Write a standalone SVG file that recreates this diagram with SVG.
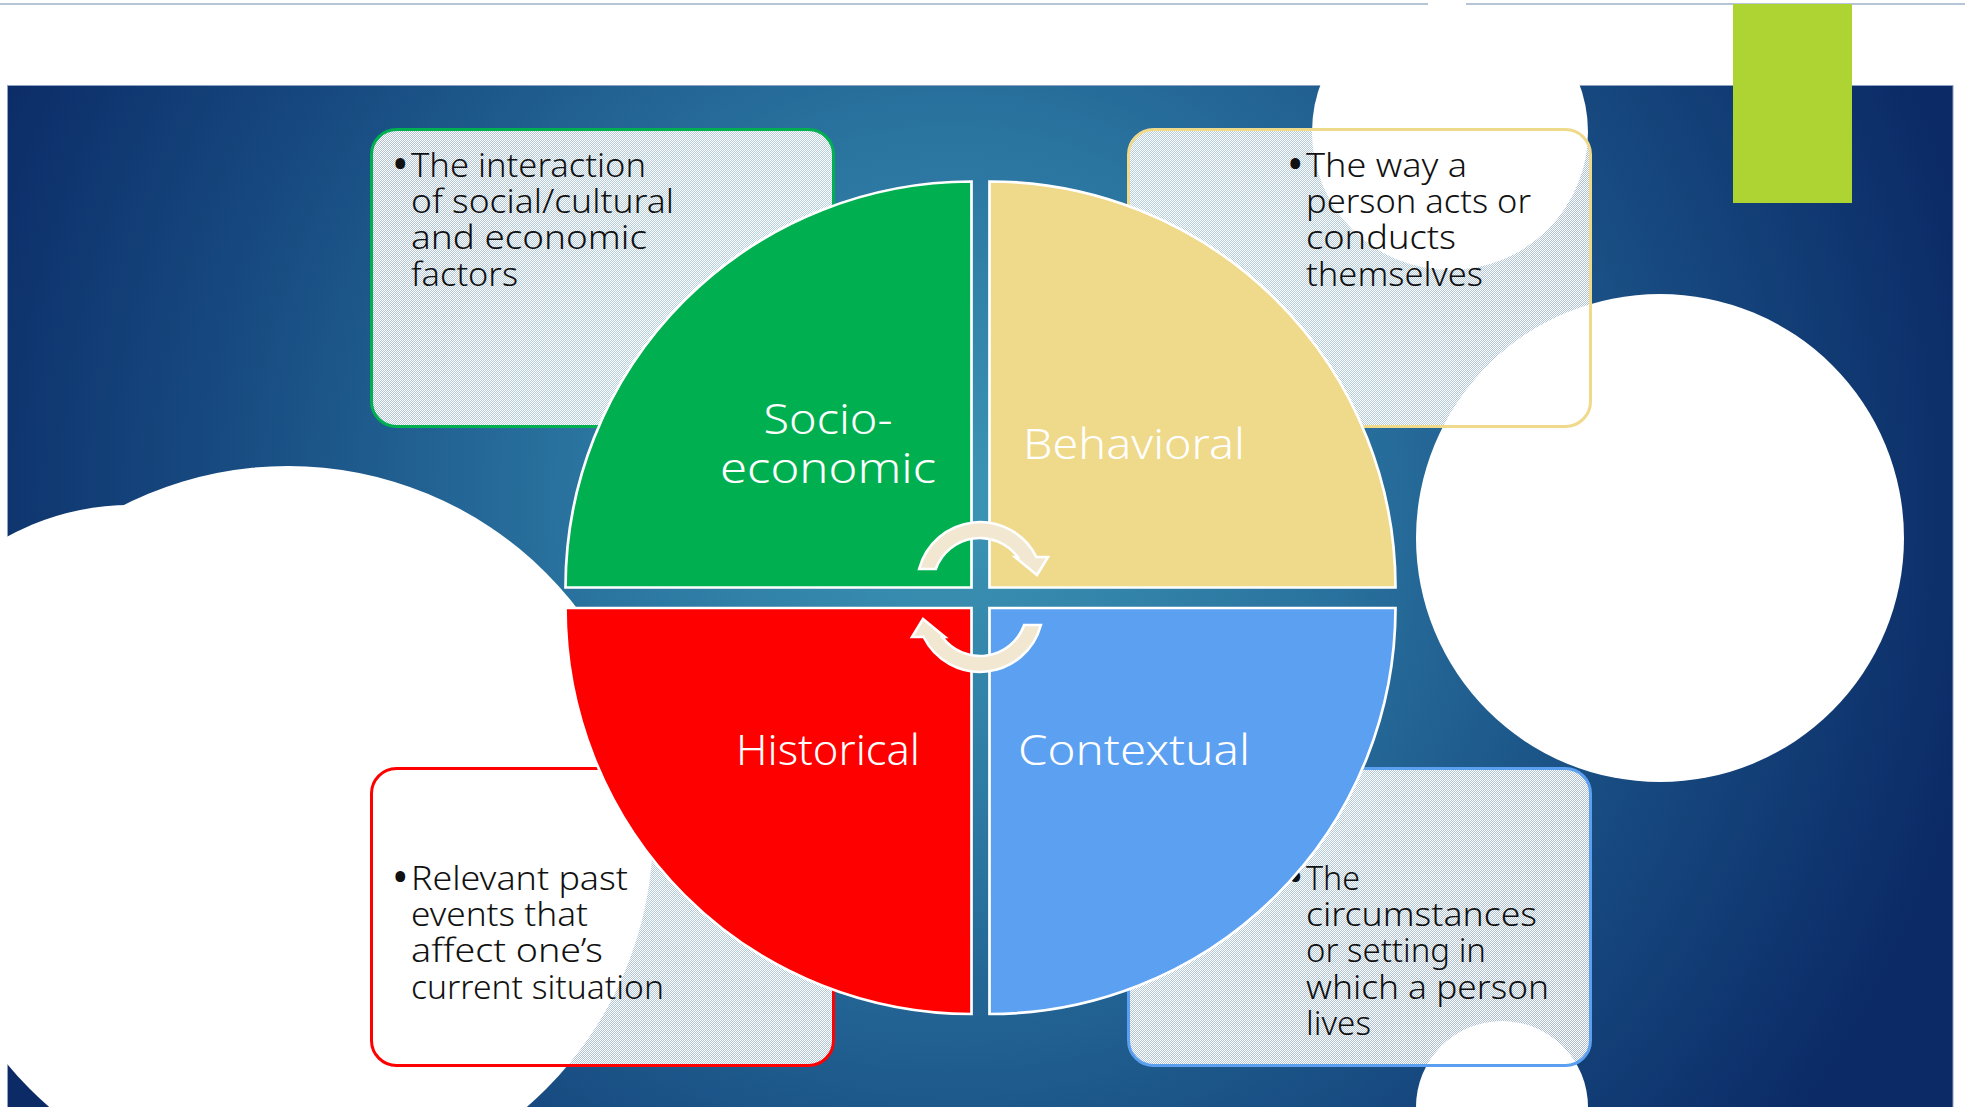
<svg xmlns="http://www.w3.org/2000/svg" width="1965" height="1107" viewBox="0 0 1965 1107">
<defs>
  <radialGradient id="bg" gradientUnits="userSpaceOnUse" cx="950" cy="500" r="1050">
    <stop offset="0" stop-color="#3c95b4"/>
    <stop offset="0.35" stop-color="#2a74a0"/>
    <stop offset="0.7" stop-color="#174a80"/>
    <stop offset="1" stop-color="#0b2a66"/>
  </radialGradient>
  <pattern id="dots" width="2" height="2" patternUnits="userSpaceOnUse">
    <rect width="2" height="2" fill="#ffffff" fill-opacity="0.65"/>
    <rect width="1" height="1" fill="#ffffff"/>
    <rect x="1" y="1" width="1" height="1" fill="#ffffff"/>
  </pattern>
</defs>
<style>
  .box { fill: url(#dots); stroke-width: 3; }
  .desc { font-family: "Noto Sans", "Liberation Sans", sans-serif; font-size: 33px; font-weight: 300; fill: #111111; }
  .bul { font-size: 44px; font-weight: 400; }
  .label { font-family: "Noto Sans", "Liberation Sans", sans-serif; font-size: 42px; font-weight: 300; fill: #ffffff; text-anchor: middle; }
  .sector { stroke: #ffffff; stroke-width: 2.7; }
  .arrow { fill: #f2e8d2; stroke: #ffffff; stroke-width: 2.6; stroke-linejoin: miter; }
  .blob { fill: #ffffff; }
  .edge { stroke: #9db0c8; stroke-width: 1.5; }
</style>

<!-- background -->
<rect x="0" y="0" width="1965" height="1107" fill="#ffffff"/>
<rect x="7.5" y="85.5" width="1945.5" height="1030" fill="url(#bg)" stroke="#8da3c0" stroke-width="1"/>
<circle class="blob" cx="130" cy="760" r="255"/>
<circle class="blob" cx="288" cy="831" r="365"/>
<circle class="blob" cx="1450" cy="132" r="138"/>
<circle class="blob" cx="1660" cy="538" r="244"/>
<circle class="blob" cx="1502" cy="1107" r="86"/>
<line class="edge" x1="0" y1="4" x2="1428" y2="4"/>
<line class="edge" x1="1466" y1="4" x2="1965" y2="4"/>
<rect x="1733" y="4" width="119" height="199" fill="#add433"/>

<!-- description boxes -->
<g id="box-socioeconomic">
  <rect class="box" x="371.5" y="129.5" width="462" height="297" rx="25" stroke="#00b050"/>
  <text class="desc"><tspan class="bul" x="392" y="180">•</tspan><tspan x="411" y="177" textLength="235" lengthAdjust="spacingAndGlyphs">The interaction</tspan><tspan x="411" y="213" textLength="263" lengthAdjust="spacingAndGlyphs">of social/cultural</tspan><tspan x="411" y="249" textLength="236" lengthAdjust="spacingAndGlyphs">and economic</tspan><tspan x="411" y="286" textLength="107" lengthAdjust="spacingAndGlyphs">factors</tspan></text>
</g>
<g id="box-behavioral">
  <rect class="box" x="1128.5" y="129.5" width="462" height="297" rx="25" stroke="#efd98b"/>
  <text class="desc"><tspan class="bul" x="1287" y="180">•</tspan><tspan x="1306" y="177" textLength="161" lengthAdjust="spacingAndGlyphs">The way a</tspan><tspan x="1306" y="213" textLength="225" lengthAdjust="spacingAndGlyphs">person acts or</tspan><tspan x="1306" y="249" textLength="150" lengthAdjust="spacingAndGlyphs">conducts</tspan><tspan x="1306" y="286" textLength="177" lengthAdjust="spacingAndGlyphs">themselves</tspan></text>
</g>
<g id="box-historical">
  <rect class="box" x="371.5" y="768.5" width="462" height="297" rx="25" stroke="#ff0000"/>
  <text class="desc"><tspan class="bul" x="392" y="893">•</tspan><tspan x="411" y="890" textLength="217" lengthAdjust="spacingAndGlyphs">Relevant past</tspan><tspan x="411" y="926" textLength="177" lengthAdjust="spacingAndGlyphs">events that</tspan><tspan x="411" y="962" textLength="192" lengthAdjust="spacingAndGlyphs">affect one’s</tspan><tspan x="411" y="999" textLength="253" lengthAdjust="spacingAndGlyphs">current situation</tspan></text>
</g>
<g id="box-contextual">
  <rect class="box" x="1128.5" y="768.5" width="462" height="297" rx="25" stroke="#5b9ff0"/>
  <text class="desc"><tspan class="bul" x="1287" y="893">•</tspan><tspan x="1306" y="890" textLength="54" lengthAdjust="spacingAndGlyphs">The</tspan><tspan x="1306" y="926" textLength="231" lengthAdjust="spacingAndGlyphs">circumstances</tspan><tspan x="1306" y="962" textLength="180" lengthAdjust="spacingAndGlyphs">or setting in</tspan><tspan x="1306" y="999" textLength="243" lengthAdjust="spacingAndGlyphs">which a person</tspan><tspan x="1306" y="1035" textLength="65" lengthAdjust="spacingAndGlyphs">lives</tspan></text>
</g>

<!-- pie sectors -->
<g id="node-socioeconomic">
  <path class="sector" fill="#00b050" d="M971.5,587.5 L971.5,181.5 A406,406 0 0 0 565.5,587.5 Z"/>
  <text class="label"><tspan x="828" y="434" textLength="129" lengthAdjust="spacingAndGlyphs">Socio-</tspan><tspan x="828" y="483" textLength="216" lengthAdjust="spacingAndGlyphs">economic</tspan></text>
</g>
<g id="node-behavioral">
  <path class="sector" fill="#efd98b" d="M989.5,587.5 L989.5,181.5 A406,406 0 0 1 1395.5,587.5 Z"/>
  <text class="label" x="1134" y="459" textLength="222" lengthAdjust="spacingAndGlyphs">Behavioral</text>
</g>
<g id="node-historical">
  <path class="sector" fill="#ff0000" d="M971.5,608 L565.5,608 A406,406 0 0 0 971.5,1014 Z"/>
  <text class="label" x="828" y="765" textLength="184" lengthAdjust="spacingAndGlyphs">Historical</text>
</g>
<g id="node-contextual">
  <path class="sector" fill="#5ca0f2" d="M989.5,608 L1395.5,608 A406,406 0 0 1 989.5,1014 Z"/>
  <text class="label" x="1134" y="765" textLength="232" lengthAdjust="spacingAndGlyphs">Contextual</text>
</g>

<!-- connectors: circular arrows -->
<g id="connectors">
  <path class="arrow" d="M919.1,569 A63,63 0 0 1 1036.4,557 L1048,557 L1037,575 L1015,557 L1017.7,557 A47,47 0 0 0 935.8,569 Z"/>
  <path class="arrow" transform="rotate(180 980 597)" d="M919.1,569 A63,63 0 0 1 1036.4,557 L1048,557 L1037,575 L1015,557 L1017.7,557 A47,47 0 0 0 935.8,569 Z"/>
</g>
</svg>
